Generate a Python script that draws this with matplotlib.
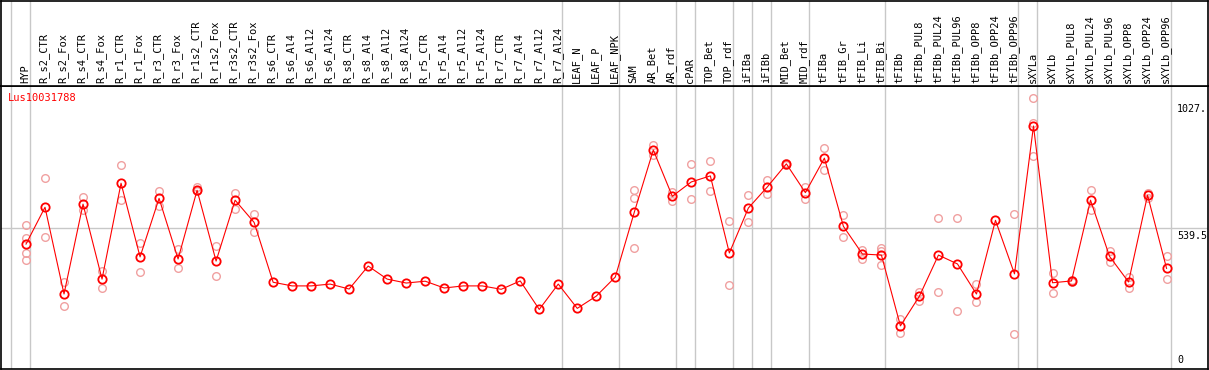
import matplotlib
matplotlib.use("Agg")
from matplotlib import pyplot as plt

# sample names, one column each
samples = [
    "HYP",
    "R_s2_CTR", "R_s2_Fox", "R_s4_CTR", "R_s4_Fox", "R_r1_CTR", "R_r1_Fox",
    "R_r3_CTR", "R_r3_Fox", "R_r1s2_CTR", "R_r1s2_Fox", "R_r3s2_CTR", "R_r3s2_Fox",
    "R_s6_CTR", "R_s6_Al4", "R_s6_Al12", "R_s6_Al24",
    "R_s8_CTR", "R_s8_Al4", "R_s8_Al12", "R_s8_Al24",
    "R_r5_CTR", "R_r5_Al4", "R_r5_Al12", "R_r5_Al24",
    "R_r7_CTR", "R_r7_Al4", "R_r7_Al12", "R_r7_Al24",
    "LEAF_N", "LEAF_P", "LEAF_NPK",
    "SAM", "AR_Bet", "AR_rdf", "cPAR", "TOP_Bet", "TOP_rdf",
    "iFIBa", "iFIBb", "MID_Bet", "MID_rdf",
    "tFIBa", "tFIB_Gr", "tFIB_Li", "tFIB_Bi",
    "tFIBb", "tFIBb_PUL8", "tFIBb_PUL24", "tFIBb_PUL96",
    "tFIBb_OPP8", "tFIBb_OPP24", "tFIBb_OPP96",
    "sXYLa", "sXYLb", "sXYLb_PUL8", "sXYLb_PUL24", "sXYLb_PUL96",
    "sXYLb_OPP8", "sXYLb_OPP24", "sXYLb_OPP96",
]

# mean expression per sample
means = [
    478,
    619, 287, 631, 344, 711, 429, 653, 421, 684, 413, 646, 561,
    332, 318, 318, 325,
    306, 394, 344, 329,
    336, 310, 318, 318,
    305, 337, 228, 325,
    232, 279, 352,
    600, 838, 661, 716, 739, 444,
    616, 697, 785, 675,
    807, 546, 440, 436,
    165, 279, 436, 402, 287, 569, 364,
    930, 330, 337, 646, 431, 333, 665, 385,
]

# individual replicates (empty where only the mean is visible)
replicates = [
    [550, 502, 443, 416],
    [730, 504], [334, 240], [658, 608], [375, 309], [779, 646], [481, 370],
    [681, 624], [460, 385], [698, 681], [469, 356], [674, 614], [593, 526],
    [], [], [], [],
    [], [], [], [],
    [], [], [], [],
    [], [], [], [],
    [], [], [],
    [684, 653, 463], [857, 819], [676, 644], [785, 649], [795, 681], [566, 321],
    [666, 561], [723, 668], [790, 780], [695, 649],
    [846, 762], [589, 504], [457, 420], [464, 453, 397],
    [193, 137], [296, 261], [578, 295], [578, 222], [324, 255], [], [593, 134],
    [1037, 940, 814], [367, 290], [340, 334], [684, 607], [453, 409],
    [353, 310], [675, 654], [432, 343],
]

# group separators sit just after these column indices
group_ends = [-1, 0, 28, 31, 34, 35, 37, 38, 39, 41, 45, 52, 53, 60]

y_ticks = [0, 539.5, 1027]
y_tick_labels = ["0", "539.5", "1027."]
gene = "Lus10031788"

W, H = 1209, 370
fig = plt.figure(figsize=(W / 100, H / 100), dpi=100)
ax = fig.add_axes([1 / W, 1 / H, 1207 / W, 283 / H])
hax = fig.add_axes([1 / W, 284 / H, 1207 / W, 85.5 / H], sharex=ax)

mono = "DejaVu Sans Mono"
red = "#ff0000"
pink = "#f0a0a0"
grey = "#c8c8c8"

xs = list(range(len(samples)))

for i, reps in enumerate(replicates):
    ax.plot([i] * len(reps), reps, "o", ms=5.5, mfc="none", mec=pink,
            mew=1.0, zorder=2)

ax.plot(xs, means, "-", color=red, lw=0.8, zorder=3)
ax.plot(xs, means, "o", ms=6, mfc="none", mec=red, mew=1.3, zorder=4)

for g in group_ends:
    for a in (ax, hax):
        a.axvline(g + 0.21, color=grey, lw=1.0, zorder=1)
ax.axhline(y_ticks[1], color=grey, lw=1.0, zorder=1)

ax.set_xlim(-1.315, 62.18)
ax.set_ylim(0, 1083)
hax.set_ylim(0, 1)

for a in (ax, hax):
    a.set_xticks([])
    a.set_yticks([])
    for s in a.spines.values():
        s.set_linewidth(1.2)
        s.set_color("black")

for i, name in enumerate(samples):
    hax.text(i - 0.05, 0.03, name, rotation=90, ha="center", va="bottom",
             fontsize=7.5, family=mono)

for v, lab in zip(y_ticks, y_tick_labels):
    if v == 0:
        ax.text(60.55, v + 15, lab, ha="left", va="bottom", fontsize=7.2,
                family=mono)
    else:
        ax.text(60.55, v - 12, lab, ha="left", va="top", fontsize=7.2,
                family=mono)

ax.text(0.006, 0.975, gene, transform=ax.transAxes, ha="left", va="top",
        fontsize=7.5, family=mono, color=red)

fig.savefig("out.png", dpi=100)
